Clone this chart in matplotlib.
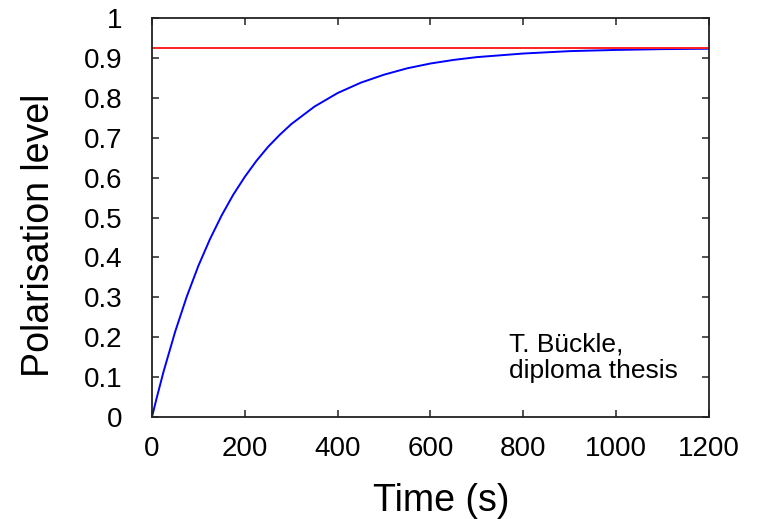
import matplotlib
matplotlib.use("Agg")
import matplotlib.pyplot as plt

plt.rcParams['font.family'] = ['Liberation Sans', 'DejaVu Sans']

# values
time_s = [0, 10, 25, 50, 75, 100, 125, 150, 175, 200, 225, 250, 275, 300, 350,
          400, 450, 500, 550, 600, 650, 700, 800, 900, 1000, 1100, 1200]
polarisation = [0.0, 0.047, 0.114, 0.214, 0.302, 0.379, 0.446, 0.505, 0.557, 0.602,
                0.642, 0.677, 0.707, 0.734, 0.778, 0.812, 0.838, 0.858, 0.874, 0.886,
                0.895, 0.902, 0.911, 0.917, 0.920, 0.922, 0.923]
saturation = 0.926

xticks = [0, 200, 400, 600, 800, 1000, 1200]
yticks = [0, 0.1, 0.2, 0.3, 0.4, 0.5, 0.6, 0.7, 0.8, 0.9, 1]
ytick_labels = ['0', '0.1', '0.2', '0.3', '0.4', '0.5', '0.6', '0.7', '0.8', '0.9', '1']

fig = plt.figure(figsize=(7.61, 5.19), dpi=100)
ax = fig.add_axes([0.1997, 0.1965, 0.732, 0.7688])

ax.plot(time_s, polarisation, color='#0000ff', lw=1.4)
ax.axhline(saturation, color='#ff2020', lw=1.4)

ax.set_xlim(0, 1200)
ax.set_ylim(0, 1)
ax.set_xticks(xticks)
ax.set_yticks(yticks)
ax.set_yticklabels(ytick_labels)
ax.tick_params(direction='in', length=5, width=1.2, top=True, right=True,
               labelsize=20, colors='#333333', labelcolor='black')
ax.tick_params(axis='y', pad=21)
ax.tick_params(axis='x', pad=14)
for s in ax.spines.values():
    s.set_color('#222222')
    s.set_linewidth(1.3)

ax.set_xlabel('Time (s)', fontsize=27)
ax.set_ylabel('Polarisation level', fontsize=27)
ax.xaxis.set_label_coords(0.52, -0.165)
ax.yaxis.set_label_coords(-0.17, 0.455)

ax.text(769, 0.212, 'T. Bückle,\ndiploma thesis', fontsize=19, va='top', ha='left',
        linespacing=1.15)

fig.savefig('out.png', dpi=100)
